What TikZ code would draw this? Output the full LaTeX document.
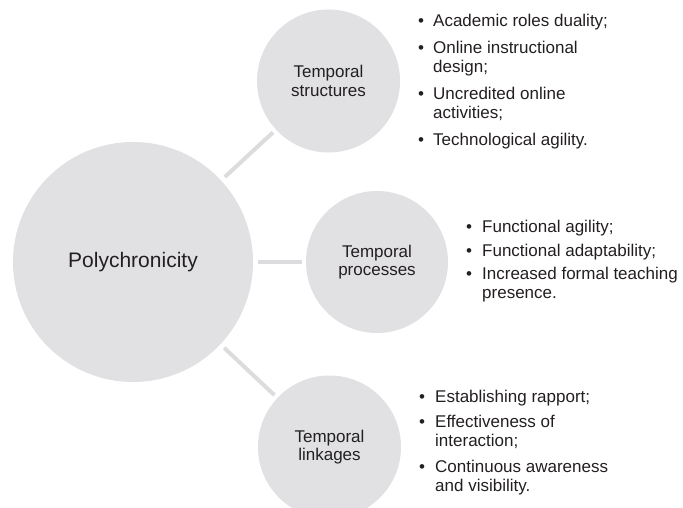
\documentclass[tikz,border=0pt]{standalone}
\usepackage{fontspec}
\setmainfont{Liberation Sans}
\definecolor{circ}{HTML}{E1E1E3}
\definecolor{connc}{HTML}{DCDCDE}
\definecolor{txt}{HTML}{231F20}
\begin{document}
\begin{tikzpicture}[x=1pt,y=-1pt,
  bubble/.style={circle, fill=circ, draw=none, inner sep=0pt, text=txt, align=center, font=\fontsize{17}{18.5}\selectfont},
  link/.style={draw=connc, line width=4pt, shorten <=5pt, shorten >=4pt},
  bul/.style={anchor=base, inner sep=0pt, text=txt, font=\fontsize{17}{19}\selectfont},
  itemtext/.style={anchor=base west, inner sep=0pt, text=txt, font=\fontsize{17}{19}\selectfont}]
\useasboundingbox (0,0) rectangle (683,508);
% circles
\node[bubble, minimum size=240pt, font=\fontsize{21}{25}\selectfont] (poly) at (133,262) {Polychronicity};
\node[bubble, minimum size=143pt] (struct) at (328.5,81) {Temporal\\structures};
\node[bubble, minimum size=142pt] (proc) at (377,262) {Temporal\\processes};
\node[bubble, minimum size=143pt] (link) at (329.5,447) {Temporal\\linkages};
% connectors
\draw[link] (poly) -- (struct);
\draw[link] (poly) -- (proc);
\draw[link] (poly) -- (link);
% top list
\node[bul] (b1) at (421,27) {•};
\node[itemtext] (t1) at (433,27) {Academic roles duality;};
\node[bul] (b2) at (421,54) {•};
\node[itemtext] (t2) at (433,54) {Online instructional};
\node[itemtext] (t2b) at (433,73) {design;};
\node[bul] (b3) at (421,100) {•};
\node[itemtext] (t3) at (433,100) {Uncredited online};
\node[itemtext] (t3b) at (433,119) {activities;};
\node[bul] (b4) at (421,146) {•};
\node[itemtext] (t4) at (433,146) {Technological agility.};
% middle list
\node[bul] (m1b) at (469,233) {•};
\node[itemtext] (m1) at (482,233) {Functional agility;};
\node[bul] (m2b) at (469,256) {•};
\node[itemtext] (m2) at (482,256) {Functional adaptability;};
\node[bul] (m3b) at (469,279) {•};
\node[itemtext] (m3) at (482,279) {Increased formal teaching};
\node[itemtext] (m3c) at (482,298) {presence.};
% bottom list
\node[bul] (l1b) at (422,402) {•};
\node[itemtext] (l1) at (435,402) {Establishing rapport;};
\node[bul] (l2b) at (422,427) {•};
\node[itemtext] (l2) at (435,427) {Effectiveness of};
\node[itemtext] (l2c) at (435,446) {interaction;};
\node[bul] (l3b) at (422,472) {•};
\node[itemtext] (l3) at (435,472) {Continuous awareness};
\node[itemtext] (l3c) at (435,491) {and visibility.};
\end{tikzpicture}
\end{document}
